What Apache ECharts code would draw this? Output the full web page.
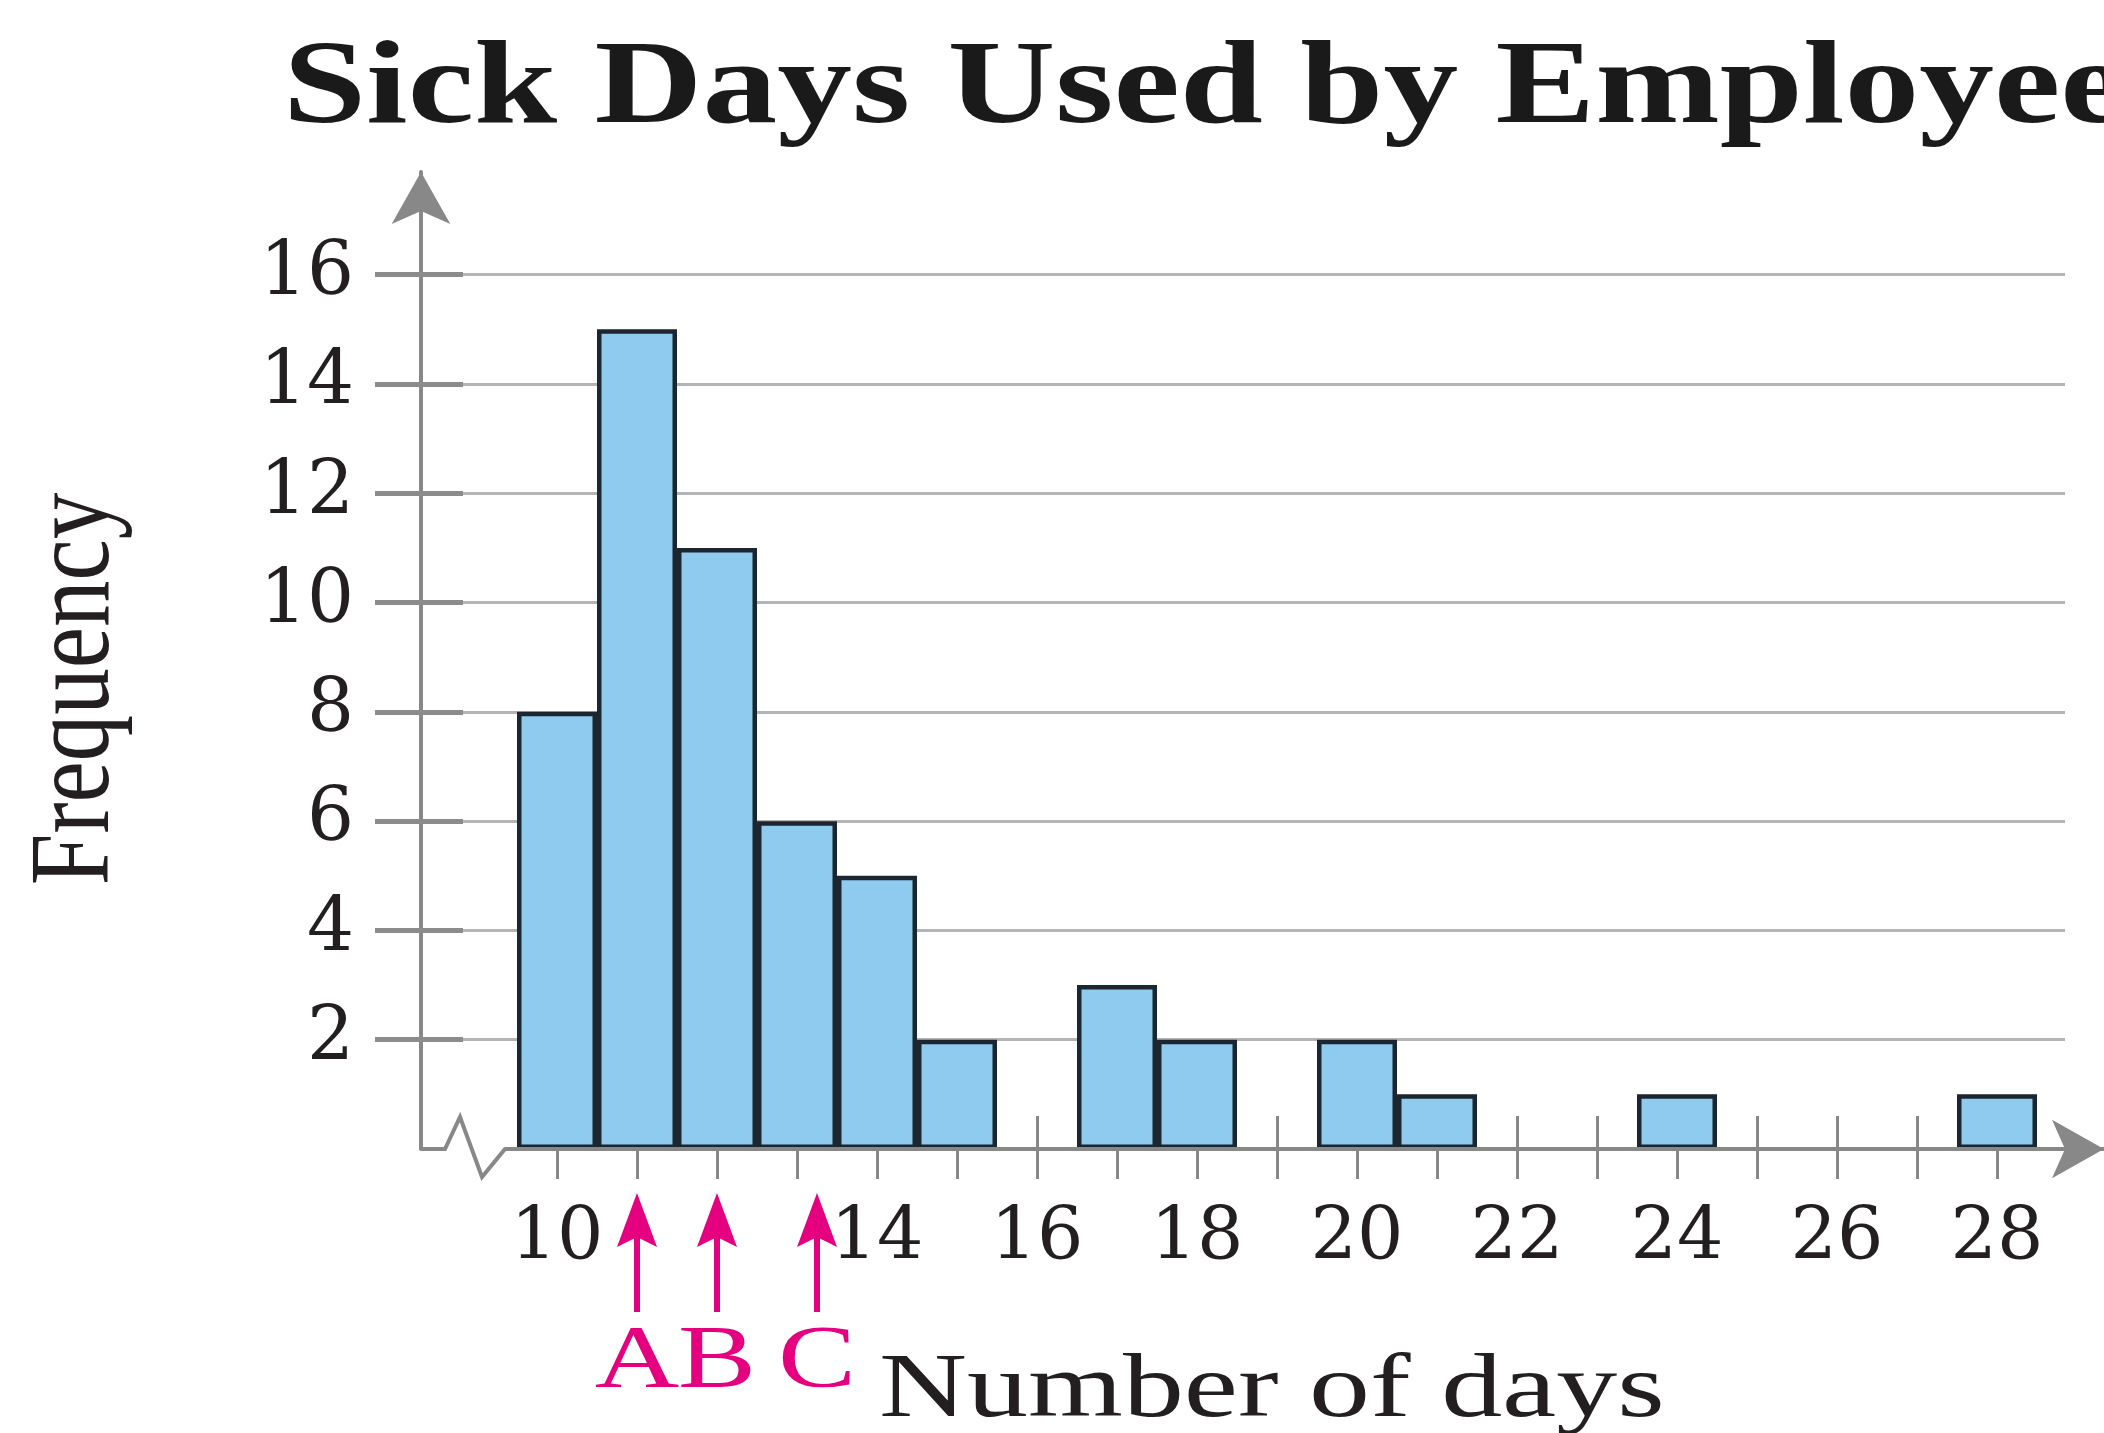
<!DOCTYPE html>
<html>
<head>
<meta charset="utf-8">
<title>Sick Days Used by Employees</title>
<script src="https://cdn.jsdelivr.net/npm/echarts@6/dist/echarts.min.js"></script>
<style>
  html, body { margin: 0; padding: 0; background: #fff; }
  #chart { width: 2104px; height: 1433px; }
</style>
</head>
<body>
<div id="chart"></div>
<script>
// number of sick days and how many employees used that many
const days = [10, 11, 12, 13, 14, 15, 16, 17, 18, 19, 20, 21, 22, 23, 24, 25, 26, 27, 28];
const frequency = [8, 15, 11, 6, 5, 2, 0, 3, 2, 0, 2, 1, 0, 0, 1, 0, 0, 0, 1];
// 12 is not printed, the arrows sit there
const xTickLabels = [10, 14, 16, 18, 20, 22, 24, 26, 28];
const yTickLabels = [2, 4, 6, 8, 10, 12, 14, 16];
// arrows under the axis
const markerValues = [11, 12, 13.25];
const markerLabels = ['A', 'B', 'C'];

const chart = echarts.init(document.getElementById('chart'));

const AXIS_GRAY = '#888888';
const TEXT = '#231f20';
const MAGENTA = '#e4007e';
const X_MIN = 8.3;
const X_MAX = 29.3375;
const Y_MAX = 17.88;

const barData = [];
days.forEach(function (d, i) {
  if (frequency[i] > 0) barData.push([d, frequency[i]]);
});

const option = {
  backgroundColor: '#ffffff',
  animation: false,
  grid: [
    { left: 421, right: 0, top: 172, bottom: 284 },    // bars, ticks, labels
    { left: 505, right: 0, top: 172, bottom: 284 },    // x axis line after the break
    { left: 375, right: 39, top: 172, bottom: 284 }    // horizontal grid lines
  ],
  xAxis: [
    {
      gridIndex: 0, type: 'value', position: 'bottom', min: X_MIN, max: X_MAX,
      axisLine: { show: false },
      axisTick: { show: true, customValues: days, length: 30, lineStyle: { color: AXIS_GRAY, width: 3 } },
      axisLabel: {
        customValues: xTickLabels, margin: 55, fontFamily: 'DejaVu Serif', fontSize: 73, color: TEXT
      },
      splitLine: { show: false }
    },
    {
      gridIndex: 0, type: 'value', position: 'bottom', min: X_MIN, max: X_MAX,
      axisLine: { show: false },
      axisTick: { show: true, inside: true, customValues: days, length: 33, lineStyle: { color: AXIS_GRAY, width: 3 } },
      axisLabel: { show: false },
      splitLine: { show: false }
    },
    {
      gridIndex: 1, type: 'value', position: 'bottom', min: 9.3, max: X_MAX, z: 3,
      axisLine: {
        show: true, symbol: ['none', 'arrow'], symbolSize: [44, 52],
        lineStyle: { color: AXIS_GRAY, width: 4 }
      },
      axisTick: { show: false },
      axisLabel: { show: false },
      splitLine: { show: false }
    },
    { gridIndex: 2, type: 'value', min: 0, max: 1, show: false }
  ],
  yAxis: [
    {
      gridIndex: 0, type: 'value', position: 'left', min: 0, max: Y_MAX,
      axisLine: {
        show: true, symbol: ['none', 'arrow'], symbolSize: [44, 52],
        lineStyle: { color: AXIS_GRAY, width: 4 }
      },
      axisTick: { show: true, customValues: yTickLabels, length: 46, lineStyle: { color: '#8c8c8c', width: 5 } },
      axisLabel: {
        customValues: yTickLabels, margin: 67, fontFamily: 'DejaVu Serif', fontSize: 74, color: TEXT
      },
      splitLine: { show: false }
    },
    {
      gridIndex: 0, type: 'value', position: 'left', min: 0, max: Y_MAX,
      axisLine: { show: false },
      axisTick: { show: true, inside: true, customValues: yTickLabels, length: 42, lineStyle: { color: '#8c8c8c', width: 5 } },
      axisLabel: { show: false },
      splitLine: { show: false }
    },
    { gridIndex: 1, type: 'value', min: 0, max: Y_MAX, show: false },
    {
      gridIndex: 2, type: 'value', position: 'left', min: 0, max: Y_MAX, interval: 2,
      axisLine: { show: false },
      axisTick: { show: false },
      axisLabel: { show: false },
      splitLine: {
        show: true, showMinLine: false, showMaxLine: false,
        lineStyle: { color: '#b4b4b4', width: 3 }
      }
    }
  ],
  graphic: [
    {
      type: 'text', x: 283, y: 91, scaleX: 1.256,
      style: {
        text: 'Sick Days Used by Employees', fontFamily: 'Liberation Serif', fontWeight: 'bold',
        fontSize: 119, fill: '#1b1a1a', align: 'left', verticalAlign: 'middle'
      }
    },
    {
      type: 'text', x: 78, y: 689, rotation: Math.PI / 2, scaleY: 1.22,
      style: {
        text: 'Frequency', fontFamily: 'Liberation Serif', fontSize: 93, fill: TEXT,
        align: 'center', verticalAlign: 'middle'
      }
    },
    {
      type: 'text', x: 879, y: 1392, scaleX: 1.34,
      style: {
        text: 'Number of days', fontFamily: 'Liberation Serif', fontSize: 91, fill: TEXT,
        align: 'left', verticalAlign: 'middle'
      }
    },
    {
      // axis break between the y axis and the first bar
      type: 'polyline', z: 3,
      shape: { points: [[421, 1149], [445, 1149], [460, 1117], [482, 1177], [505, 1149]] },
      style: { stroke: AXIS_GRAY, lineWidth: 4, fill: null, lineJoin: 'miter' }
    }
  ],
  series: [
    {
      type: 'bar', xAxisIndex: 0, yAxisIndex: 0, barWidth: 80, z: 2,
      itemStyle: { color: '#8ecbee', borderColor: '#1c2630', borderWidth: 4.5 },
      data: barData
    },
    {
      type: 'custom', xAxisIndex: 0, yAxisIndex: 0, z: 4,
      data: markerValues.map(function (v) { return [v, 0]; }),
      renderItem: function (params, api) {
        const p = api.coord([api.value(0), 0]);
        const x = p[0], y0 = p[1];
        return {
          type: 'group',
          children: [
            { type: 'rect', shape: { x: x - 3, y: y0 + 80, width: 6, height: 83 }, style: { fill: MAGENTA } },
            {
              type: 'polygon',
              shape: { points: [[x, y0 + 44], [x + 20, y0 + 98], [x, y0 + 88], [x - 20, y0 + 98]] },
              style: { fill: MAGENTA }
            },
            {
              type: 'text', x: x, y: y0 + 214, scaleX: 1.33,
              style: {
                text: markerLabels[params.dataIndex], fontFamily: 'Liberation Serif', fontSize: 88,
                fill: MAGENTA, align: 'center', verticalAlign: 'middle'
              }
            }
          ]
        };
      }
    }
  ]
};

chart.setOption(option);
</script>
</body>
</html>
